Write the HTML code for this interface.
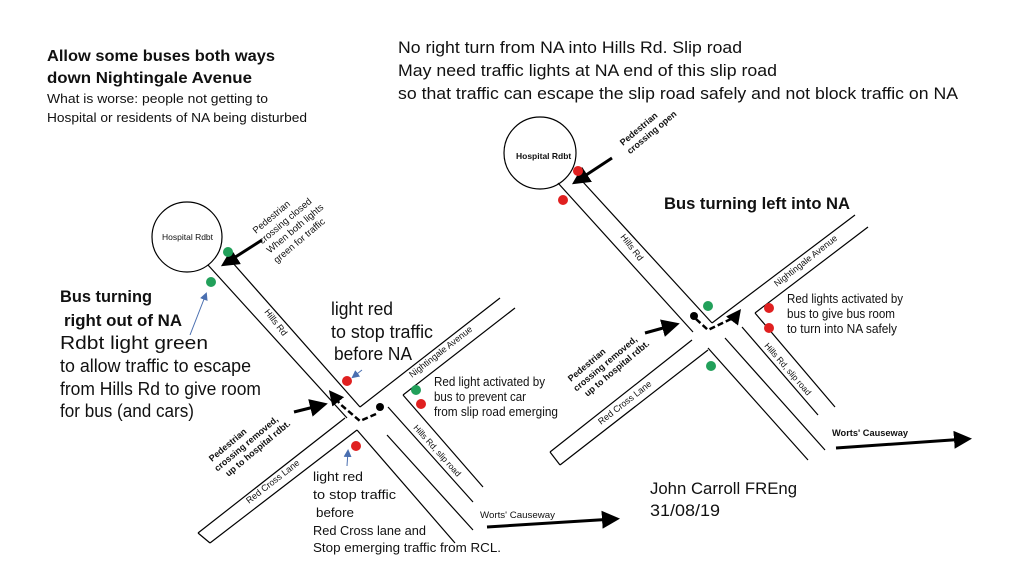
<!DOCTYPE html>
<html><head><meta charset="utf-8"><style>
html,body{margin:0;padding:0;background:#fff;}
svg{display:block;}
text{font-family:"Liberation Sans",sans-serif;fill:#111;}
</style></head><body>
<svg width="1024" height="576" viewBox="0 0 1024 576" xmlns="http://www.w3.org/2000/svg">
<defs>
<marker id="ah" markerWidth="6" markerHeight="6" refX="4" refY="3" orient="auto" markerUnits="strokeWidth"><path d="M0,0 L6,3 L0,6 z" fill="#000"/></marker>
<marker id="ahb" markerWidth="8" markerHeight="8" refX="6" refY="4" orient="auto" markerUnits="strokeWidth"><path d="M0,0 L8,4 L0,8 z" fill="#4a6fb0"/></marker>
</defs>

<text x="47" y="61" font-size="16" font-weight="bold" textLength="228" lengthAdjust="spacingAndGlyphs">Allow some buses both ways</text>
<text x="47" y="83" font-size="16" font-weight="bold" textLength="205" lengthAdjust="spacingAndGlyphs">down Nightingale Avenue</text>
<text x="47" y="103" font-size="13" textLength="221" lengthAdjust="spacingAndGlyphs">What is worse: people not getting to</text>
<text x="47" y="122" font-size="13" textLength="260" lengthAdjust="spacingAndGlyphs">Hospital or residents of NA being disturbed</text>

<text x="398" y="53" font-size="17" textLength="344" lengthAdjust="spacingAndGlyphs">No right turn from NA into Hills Rd. Slip road</text>
<text x="398" y="76" font-size="17" textLength="379" lengthAdjust="spacingAndGlyphs">May need traffic lights at NA end of this slip road</text>
<text x="398" y="99" font-size="17" textLength="560" lengthAdjust="spacingAndGlyphs">so that traffic can escape the slip road safely and not block traffic on NA</text>

<!-- LEFT DIAGRAM -->
<g stroke="#000" stroke-width="1.2" fill="none">
<circle cx="187" cy="237" r="35"/>
<line x1="208" y1="265" x2="347" y2="418"/>
<line x1="232" y1="262" x2="360" y2="407"/>
<line x1="360" y1="407" x2="500" y2="298"/>
<line x1="403" y1="395" x2="515" y2="308"/>
<line x1="403" y1="395" x2="483" y2="487"/>
<line x1="388" y1="407" x2="473" y2="502"/>
<line x1="387" y1="435" x2="473" y2="530"/>
<line x1="357" y1="430" x2="455" y2="543"/>
<line x1="345" y1="418" x2="198" y2="533"/>
<line x1="357" y1="430" x2="210" y2="543"/>
<line x1="198" y1="533" x2="210" y2="543"/>
</g>
<text font-size="9" transform="translate(264,312) rotate(52)">Hills Rd</text>
<text font-size="9" transform="translate(412,378) rotate(-38)">Nightingale Avenue</text>
<text font-size="8.5" transform="translate(413,428) rotate(48)">Hills Rd, slip road</text>
<text font-size="9" transform="translate(249,504) rotate(-38)">Red Cross Lane</text>
<text x="162" y="240" font-size="8.5">Hospital Rdbt</text>
<g font-size="9.5" transform="translate(256,234) rotate(-40)">
<text x="0" y="0">Pedestrian</text>
<text x="-2" y="12">crossing closed</text>
<text x="-2" y="24">When both lights</text>
<text x="-3" y="36">green for traffic</text>
</g>
<g font-size="9" font-weight="bold" transform="translate(212,462) rotate(-40)">
<text x="0" y="0">Pedestrian</text>
<text x="-2" y="11">crossing removed,</text>
<text x="3" y="22">up to hospital rdbt.</text>
</g>

<line x1="262" y1="240" x2="226" y2="263" stroke="#000" stroke-width="3" marker-end="url(#ah)"/>
<line x1="294" y1="412" x2="322" y2="405" stroke="#000" stroke-width="3" marker-end="url(#ah)"/>
<line x1="190" y1="335" x2="206" y2="294" stroke="#4a6fb0" stroke-width="1" marker-end="url(#ahb)"/>
<line x1="362" y1="370" x2="353" y2="377" stroke="#4a6fb0" stroke-width="1" marker-end="url(#ahb)"/>
<line x1="347" y1="466" x2="348" y2="451" stroke="#4a6fb0" stroke-width="1" marker-end="url(#ahb)"/>

<path d="M376,414 L360,421 L340,404 L332,394" stroke="#000" stroke-width="2.5" stroke-dasharray="6,3" fill="none" marker-end="url(#ah)"/>
<circle cx="380" cy="407" r="4" fill="#000"/>

<circle cx="228" cy="252" r="5" fill="#22a05a"/>
<circle cx="211" cy="282" r="5" fill="#22a05a"/>
<circle cx="347" cy="381" r="5" fill="#e02020"/>
<circle cx="356" cy="446" r="5" fill="#e02020"/>
<circle cx="416" cy="390" r="5" fill="#22a05a"/>
<circle cx="421" cy="404" r="5" fill="#e02020"/>

<text x="60" y="302" font-size="17" font-weight="bold" textLength="92" lengthAdjust="spacingAndGlyphs">Bus turning</text>
<text x="64" y="326" font-size="17" font-weight="bold" textLength="118" lengthAdjust="spacingAndGlyphs">right out of NA</text>
<g font-size="18">
<text x="60" y="349" textLength="148" lengthAdjust="spacingAndGlyphs">Rdbt light green</text>
<text x="60" y="372" textLength="191" lengthAdjust="spacingAndGlyphs">to allow traffic to escape</text>
<text x="60" y="395" textLength="201" lengthAdjust="spacingAndGlyphs">from Hills Rd to give room</text>
<text x="60" y="417" textLength="134" lengthAdjust="spacingAndGlyphs">for bus (and cars)</text>
<text x="331" y="315" textLength="62" lengthAdjust="spacingAndGlyphs">light red</text>
<text x="331" y="338" textLength="102" lengthAdjust="spacingAndGlyphs">to stop traffic</text>
<text x="334" y="360" textLength="78" lengthAdjust="spacingAndGlyphs">before NA</text>
</g>
<g font-size="13">
<text x="434" y="386" textLength="111" lengthAdjust="spacingAndGlyphs">Red light activated by</text>
<text x="434" y="401" textLength="92" lengthAdjust="spacingAndGlyphs">bus to prevent car</text>
<text x="434" y="416" textLength="124" lengthAdjust="spacingAndGlyphs">from slip road emerging</text>
<text x="313" y="481" textLength="50" lengthAdjust="spacingAndGlyphs">light red</text>
<text x="313" y="499" textLength="83" lengthAdjust="spacingAndGlyphs">to stop traffic</text>
<text x="316" y="517" textLength="38" lengthAdjust="spacingAndGlyphs">before</text>
<text x="313" y="535" textLength="113" lengthAdjust="spacingAndGlyphs">Red Cross lane and</text>
<text x="313" y="552" textLength="188" lengthAdjust="spacingAndGlyphs">Stop emerging traffic from RCL.</text>
</g>
<text x="480" y="518" font-size="9" textLength="75" lengthAdjust="spacingAndGlyphs">Worts' Causeway</text>
<line x1="487" y1="527" x2="614" y2="519" stroke="#000" stroke-width="3" marker-end="url(#ah)"/>

<text x="650" y="494" font-size="17" textLength="147" lengthAdjust="spacingAndGlyphs">John Carroll FREng</text>
<text x="650" y="516" font-size="17" textLength="70" lengthAdjust="spacingAndGlyphs">31/08/19</text>

<!-- RIGHT DIAGRAM -->
<g stroke="#000" stroke-width="1.2" fill="none">
<circle cx="540" cy="153" r="36"/>
<line x1="558" y1="183" x2="693" y2="332"/>
<line x1="583" y1="182" x2="712" y2="323"/>
<line x1="712" y1="323" x2="855" y2="215"/>
<line x1="755" y1="313" x2="868" y2="227"/>
<line x1="755" y1="313" x2="835" y2="407"/>
<line x1="742" y1="327" x2="818" y2="415"/>
<line x1="725" y1="338" x2="825" y2="450"/>
<line x1="708" y1="348" x2="808" y2="460"/>
<line x1="692" y1="340" x2="550" y2="452"/>
<line x1="708" y1="350" x2="560" y2="465"/>
<line x1="550" y1="452" x2="560" y2="465"/>
</g>
<text x="516" y="159" font-size="8.5" font-weight="bold">Hospital Rdbt</text>
<text font-size="9" transform="translate(620,237) rotate(52)">Hills Rd</text>
<text font-size="9" transform="translate(777,287) rotate(-38)">Nightingale Avenue</text>
<text font-size="8.5" transform="translate(764,346) rotate(49)">Hills Rd, slip road</text>
<text font-size="9" transform="translate(601,425) rotate(-38)">Red Cross Lane</text>
<g font-size="9" font-weight="bold" transform="translate(623,146) rotate(-40)">
<text x="0" y="0">Pedestrian</text>
<text x="0" y="11">crossing open</text>
</g>
<g font-size="9" font-weight="bold" transform="translate(571,382) rotate(-40)">
<text x="0" y="0">Pedestrian</text>
<text x="-2" y="11">crossing removed,</text>
<text x="3" y="22">up to hospital rdbt.</text>
</g>
<line x1="612" y1="158" x2="577" y2="181" stroke="#000" stroke-width="3" marker-end="url(#ah)"/>
<line x1="645" y1="333" x2="674" y2="325" stroke="#000" stroke-width="3" marker-end="url(#ah)"/>
<path d="M696,319 L708,330 L735,317 L738,313" stroke="#000" stroke-width="2.5" stroke-dasharray="6,3" fill="none" marker-end="url(#ah)"/>
<circle cx="694" cy="316" r="4" fill="#000"/>

<circle cx="578" cy="171" r="5" fill="#e02020"/>
<circle cx="563" cy="200" r="5" fill="#e02020"/>
<circle cx="708" cy="306" r="5" fill="#22a05a"/>
<circle cx="711" cy="366" r="5" fill="#22a05a"/>
<circle cx="769" cy="308" r="5" fill="#e02020"/>
<circle cx="769" cy="328" r="5" fill="#e02020"/>

<text x="664" y="209" font-size="17" font-weight="bold" textLength="186" lengthAdjust="spacingAndGlyphs">Bus turning left into NA</text>
<g font-size="13">
<text x="787" y="303" textLength="116" lengthAdjust="spacingAndGlyphs">Red lights activated by</text>
<text x="787" y="318" textLength="108" lengthAdjust="spacingAndGlyphs">bus to give bus room</text>
<text x="787" y="333" textLength="110" lengthAdjust="spacingAndGlyphs">to turn into NA safely</text>
</g>
<text x="832" y="436" font-size="9" font-weight="bold" textLength="76" lengthAdjust="spacingAndGlyphs">Worts' Causeway</text>
<line x1="836" y1="448" x2="966" y2="439" stroke="#000" stroke-width="3" marker-end="url(#ah)"/>
</svg>
</body></html>
